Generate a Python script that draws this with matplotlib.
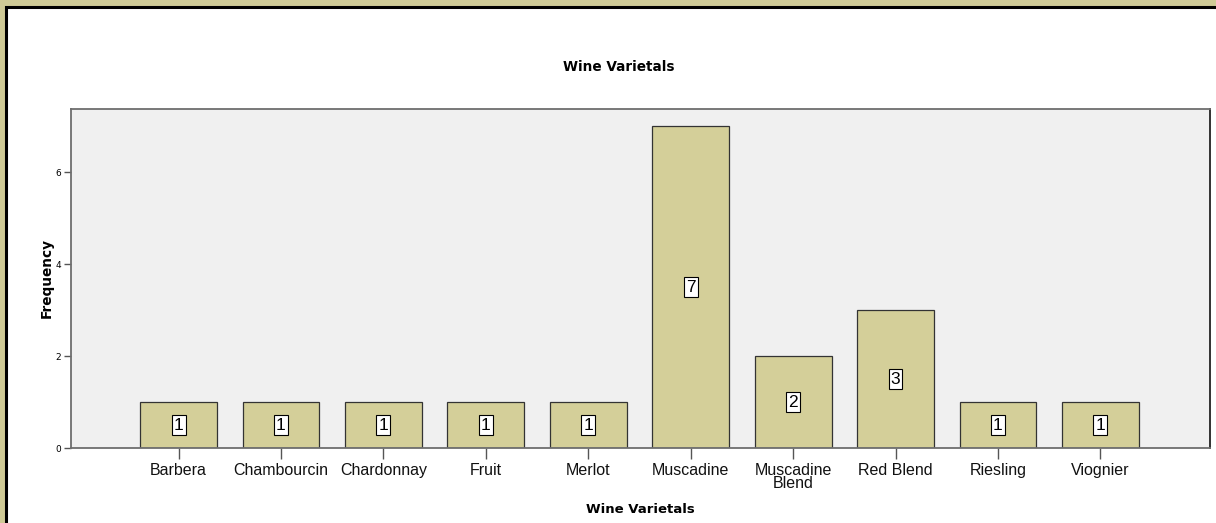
import matplotlib.pyplot as plt
from matplotlib.patches import Rectangle

varietals = ["Barbera", "Chambourcin", "Chardonnay", "Fruit", "Merlot",
             "Muscadine", "Muscadine\nBlend", "Red Blend", "Riesling", "Viognier"]
counts = [1, 1, 1, 1, 1, 7, 2, 3, 1, 1]
y_ticks = [0, 2, 4, 6]

fig = plt.figure(figsize=(12.16, 5.23), dpi=100)
fig.patch.set_facecolor("#cfca96")

# white panel with a dark frame on the top and left
W, H = 1216, 523
fig.add_artist(Rectangle((6 / W, -0.1), 1.0, (H - 7) / H + 0.1,
                         transform=fig.transFigure, facecolor="white",
                         edgecolor="black", linewidth=2.2, zorder=0))

ax = fig.add_axes([71 / W, (H - 448) / H, (1210 - 71) / W, (448 - 109) / H])
ax.set_facecolor("#f0f0f0")

x = list(range(len(varietals)))
ax.bar(x, counts, width=0.75, color="#d4cf99", edgecolor="#333333",
       linewidth=0.9, zorder=2)

for xi, c in zip(x, counts):
    ax.text(xi, c / 2, str(c), ha="center", va="center", fontsize=12.5,
            family="Liberation Sans", zorder=3,
            bbox=dict(boxstyle="square,pad=0.12", facecolor="white",
                      edgecolor="black", linewidth=0.8))

ax.set_xlim(-1.05, 10.07)
ax.set_ylim(0, 7.37)
ax.set_yticks(y_ticks)
ax.set_xticks(x)
ax.set_xticklabels(varietals, fontsize=11.5, family="Liberation Sans",
                   linespacing=0.85, color="#111111")
ax.tick_params(axis="y", labelsize=6.5, length=5, width=1, color="#555555",
               pad=2)
ax.tick_params(axis="x", length=8, width=1, color="#555555", pad=3)

for side in ["left", "top", "bottom"]:
    ax.spines[side].set_color("#6e6e6e")
    ax.spines[side].set_linewidth(1.3)
ax.spines["right"].set_color("#222222")
ax.spines["right"].set_linewidth(1.3)

ax.set_ylabel("Frequency", fontsize=9.8, fontweight="bold",
              family="DejaVu Sans", labelpad=1)
ax.set_xlabel("Wine Varietals", fontsize=9.5, fontweight="bold",
              family="DejaVu Sans", labelpad=8)

fig.text(619 / W, 1 - 67 / H, "Wine Varietals", ha="center", va="center",
         fontsize=9.8, fontweight="bold", family="DejaVu Sans")

fig.savefig("out.png", dpi=100, facecolor=fig.get_facecolor())
